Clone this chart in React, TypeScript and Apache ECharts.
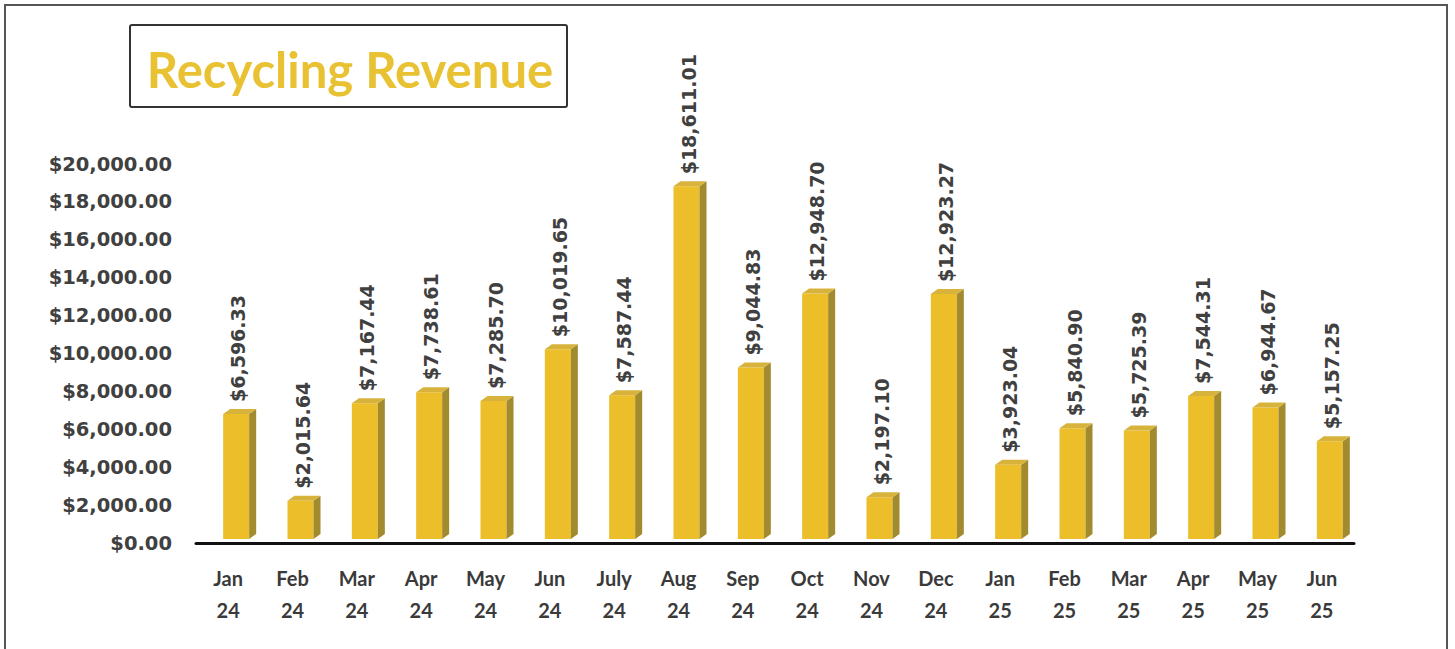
import React, { useEffect, useRef } from "react";
import * as echarts from "echarts";

const months = ["Jan", "Feb", "Mar", "Apr", "May", "Jun", "July", "Aug", "Sep", "Oct", "Nov", "Dec", "Jan", "Feb", "Mar", "Apr", "May", "Jun"];
const years = ["24", "24", "24", "24", "24", "24", "24", "24", "24", "24", "24", "24", "25", "25", "25", "25", "25", "25"];
const revenue = [6596.33, 2015.64, 7167.44, 7738.61, 7285.7, 10019.65, 7587.44, 18611.01, 9044.83, 12948.7, 2197.1, 12923.27, 3923.04, 5840.9, 5725.39, 7544.31, 6944.67, 5157.25];
const yTicks = [0, 2000, 4000, 6000, 8000, 10000, 12000, 14000, 16000, 18000, 20000];
const titleText = "Recycling Revenue";

const fmt = (v: number) =>
  "$" + v.toLocaleString("en-US", { minimumFractionDigits: 2, maximumFractionDigits: 2 });

const FONT = "Lato, 'Open Sans', sans-serif";
const NUMFONT = "'DejaVu Sans', 'Open Sans', sans-serif";

export default function App() {
  const ref = useRef<HTMLDivElement>(null);
  useEffect(() => {
    if (!ref.current) return;
    const chart = echarts.init(ref.current, null, { renderer: "svg" });
    const categories = months.map((m, i) => m + "\n" + years[i]);
    chart.setOption({
      animation: false,
      backgroundColor: "#ffffff",
      grid: { left: 196, right: 101, top: 164, bottom: 106, containLabel: false },
      xAxis: {
        type: "category",
        data: categories,
        axisLine: { show: true, lineStyle: { color: "#111", width: 3 } },
        axisTick: { show: false },
        axisLabel: {
          interval: 0,
          margin: 19,
          fontFamily: FONT,
          fontSize: 20,
          fontWeight: "bold",
          lineHeight: 32,
          color: "#3a3a3a",
        },
      },
      yAxis: {
        type: "value",
        min: 0,
        max: yTicks[yTicks.length - 1],
        interval: yTicks[1] - yTicks[0],
        splitLine: { show: false },
        axisLine: { show: false },
        axisTick: { show: false },
        axisLabel: {
          margin: 24,
          fontFamily: NUMFONT,
          fontSize: 19.5,
          fontWeight: "bold",
          color: "#404040",
          formatter: (v: number) => fmt(v),
        },
      },
      series: [
        {
          type: "custom",
          data: revenue.map((v, i) => [i, v]),
          encode: { x: 0, y: 1 },
          renderItem: (params: any, api: any) => {
            const idx = api.value(0);
            const v = api.value(1);
            const base = api.coord([idx, 0]);
            const top = api.coord([idx, v]);
            const cx = base[0] + 8;
            const w = 26, d = 7, h = 5;
            const x0 = cx - w / 2, x1 = cx + w / 2;
            const yb = base[1] - 4;
            const yt = top[1] - 4;
            return {
              type: "group",
              children: [
                { type: "rect", shape: { x: x0, y: yt, width: w, height: yb - yt }, style: { fill: "#EBBE2A" } },
                {
                  type: "polygon",
                  shape: { points: [[x1, yt], [x1 + d, yt - h], [x1 + d, yb - h], [x1, yb]] },
                  style: { fill: "#A28A2E" },
                },
                {
                  type: "polygon",
                  shape: { points: [[x0, yt], [x0 + d, yt - h], [x1 + d, yt - h], [x1, yt]] },
                  style: { fill: "#D8B33C" },
                },
                {
                  type: "text",
                  x: cx + 2,
                  y: yt - h - 7,
                  rotation: Math.PI / 2,
                  style: {
                    text: fmt(v),
                    fontFamily: NUMFONT,
                    fontSize: 19,
                    fontWeight: "bold",
                    fill: "#404040",
                    align: "left",
                    verticalAlign: "middle",
                  },
                },
              ],
            };
          },
        },
      ],
      graphic: [
        {
          type: "rect",
          shape: { x: 5, y: 5, width: 1442, height: 700 },
          style: { fill: "none", stroke: "#555", lineWidth: 2 },
          silent: true,
        },
        {
          type: "rect",
          shape: { x: 130, y: 25, width: 437, height: 82, r: 2 },
          style: { fill: "#fff", stroke: "#333", lineWidth: 2 },
        },
        {
          type: "text",
          x: 350,
          y: 69,
          style: {
            text: titleText,
            fontFamily: FONT,
            fontSize: 49,
            fontWeight: "bold",
            fill: "#E8C232",
            align: "center",
            verticalAlign: "middle",
          },
        },
      ],
    });
    return () => chart.dispose();
  }, []);
  return (
    <div
      ref={ref}
      style={{ position: "fixed", left: 0, top: 0, width: 1455, height: 649 }}
    />
  );
}
